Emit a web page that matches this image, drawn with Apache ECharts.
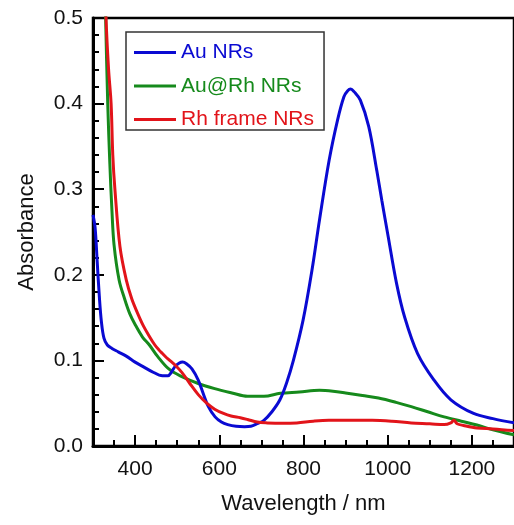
<!DOCTYPE html>
<html>
<head>
<meta charset="utf-8">
<script src="https://cdn.jsdelivr.net/npm/echarts@6/dist/echarts.min.js"></script>
<style>
html,body{margin:0;padding:0;background:#fff;}
#c{width:514px;height:525px;}
</style>
</head>
<body>
<div id="c"></div>
<script>
// ---- data ----
const seriesNames = ['Au NRs', 'Au@Rh NRs', 'Rh frame NRs'];

const auX = [300, 305, 310, 315, 320, 326, 334, 345, 360, 379, 400, 418, 440, 465, 478, 486, 495, 505, 513, 522, 535, 550, 562, 574, 590, 605, 620, 640, 660, 675, 690, 706, 725, 744, 760, 776, 799, 820, 838, 861, 881, 896, 905, 912, 920, 935, 955, 974, 986, 1001, 1021, 1040, 1071, 1110, 1150, 1204, 1250, 1300];
const auY = [0.270, 0.255, 0.215, 0.175, 0.145, 0.126, 0.118, 0.114, 0.110, 0.105, 0.098, 0.093, 0.087, 0.082, 0.082, 0.086, 0.093, 0.097, 0.098, 0.096, 0.090, 0.077, 0.061, 0.046, 0.034, 0.028, 0.025, 0.023, 0.0225, 0.023, 0.026, 0.030, 0.040, 0.054, 0.074, 0.100, 0.147, 0.205, 0.264, 0.334, 0.381, 0.408, 0.415, 0.417, 0.414, 0.404, 0.373, 0.322, 0.287, 0.245, 0.190, 0.151, 0.108, 0.077, 0.054, 0.038, 0.032, 0.027];

const auRhX = [326, 330, 335, 340, 345, 350, 362, 375, 387, 400, 418, 434, 453, 480, 511, 550, 589, 630, 667, 706, 745, 790, 838, 870, 900, 940, 978, 1020, 1056, 1095, 1134, 1175, 1212, 1250, 1300];
const auRhY = [0.60, 0.50, 0.40, 0.33, 0.275, 0.235, 0.194, 0.172, 0.155, 0.142, 0.127, 0.118, 0.105, 0.090, 0.081, 0.073, 0.067, 0.062, 0.058, 0.058, 0.0615, 0.063, 0.065, 0.064, 0.062, 0.059, 0.056, 0.051, 0.046, 0.040, 0.034, 0.029, 0.0245, 0.019, 0.013];

const rhX = [327, 331, 337, 343, 347, 352, 364, 379, 392, 406, 420, 434, 447, 457, 465, 473, 480, 496, 511, 530, 550, 570, 589, 610, 628, 650, 667, 690, 714, 750, 784, 823, 860, 900, 963, 1010, 1056, 1100, 1134, 1150, 1157, 1165, 1180, 1212, 1250, 1300];
const rhY = [0.60, 0.50, 0.44, 0.40, 0.34, 0.30, 0.233, 0.194, 0.172, 0.155, 0.140, 0.128, 0.118, 0.112, 0.108, 0.104, 0.101, 0.094, 0.086, 0.073, 0.060, 0.050, 0.043, 0.038, 0.035, 0.033, 0.031, 0.028, 0.027, 0.0265, 0.027, 0.029, 0.030, 0.030, 0.030, 0.029, 0.027, 0.026, 0.025, 0.027, 0.030, 0.026, 0.024, 0.021, 0.020, 0.018];

const xTickLabels = [400, 600, 800, 1000, 1200];
const yTickLabels = [0.0, 0.1, 0.2, 0.3, 0.4, 0.5];

const colors = ['#0a0ad2', '#168a1c', '#e2141a'];
// ---------------

const pairs = (xs, ys) => xs.map((x, i) => [x, ys[i]]);
const FONT = '"Liberation Sans", Arial, sans-serif';

const chart = echarts.init(document.getElementById('c'), null, {renderer: 'canvas'});
chart.setOption({
  animation: false,
  backgroundColor: '#fff',
  grid: {
    left: 93, top: 18, width: 428.5, height: 428,
    show: true, borderColor: '#000', borderWidth: 2.5, backgroundColor: 'transparent',
    containLabel: false
  },
  legend: {
    orient: 'vertical',
    left: 126, top: 32,
    padding: [10, 10, 0, 8],
    itemGap: 12.5,
    itemWidth: 42, itemHeight: 3,
    icon: 'rect',
    borderColor: '#333', borderWidth: 1.5,
    backgroundColor: '#fff',
    textStyle: {fontFamily: FONT, fontSize: 21, lineHeight: 20},
    data: seriesNames.map((n, i) => ({name: n, textStyle: {color: colors[i]}}))
  },
  xAxis: [{
    type: 'value', min: 300, max: 1300, interval: 50,
    name: 'Wavelength / nm', nameLocation: 'middle', nameGap: 47,
    nameTextStyle: {fontFamily: FONT, fontSize: 22, color: '#111'},
    axisLine: {show: true, lineStyle: {color: '#000', width: 3}},
    axisTick: {show: true, inside: true, length: 6, lineStyle: {color: '#000', width: 2}},
    axisLabel: {show: true, customValues: xTickLabels, margin: 13, fontFamily: FONT, fontSize: 21, color: '#111',
      formatter: v => String(v)},
    splitLine: {show: false}
  }, {
    type: 'value', min: 300, max: 1300, position: 'bottom',
    axisLine: {show: false},
    axisTick: {show: true, inside: true, length: 11, customValues: xTickLabels, lineStyle: {color: '#000', width: 2}},
    axisLabel: {show: false},
    splitLine: {show: false}
  }],
  yAxis: {
    type: 'value', min: 0, max: 0.5, interval: 0.1,
    name: 'Absorbance', nameLocation: 'middle', nameGap: 55,
    nameTextStyle: {fontFamily: FONT, fontSize: 22, color: '#111'},
    axisLine: {show: true, lineStyle: {color: '#000', width: 3}},
    axisTick: {show: true, inside: true, length: 11, lineStyle: {color: '#000', width: 2}},
    minorTick: {show: true, splitNumber: 5, length: 6, lineStyle: {color: '#000', width: 2}},
    axisLabel: {margin: 10, fontFamily: FONT, fontSize: 21, color: '#111',
      formatter: v => yTickLabels.includes(Math.round(v * 10) / 10) ? v.toFixed(1) : ''},
    splitLine: {show: false}
  },
  series: [
    {name: seriesNames[0], type: 'line', data: pairs(auX, auY), color: colors[0], xAxisIndex: 0,
     showSymbol: false, symbol: 'none', smooth: 0.35, lineStyle: {width: 3, color: colors[0]}, z: 3},
    {name: seriesNames[1], type: 'line', data: pairs(auRhX, auRhY), color: colors[1], xAxisIndex: 0,
     showSymbol: false, symbol: 'none', smooth: 0.35, lineStyle: {width: 3, color: colors[1]}, z: 2},
    {name: seriesNames[2], type: 'line', data: pairs(rhX, rhY), color: colors[2], xAxisIndex: 0,
     showSymbol: false, symbol: 'none', smooth: 0.35, lineStyle: {width: 3, color: colors[2]}, z: 4}
  ]
});
</script>
</body>
</html>
